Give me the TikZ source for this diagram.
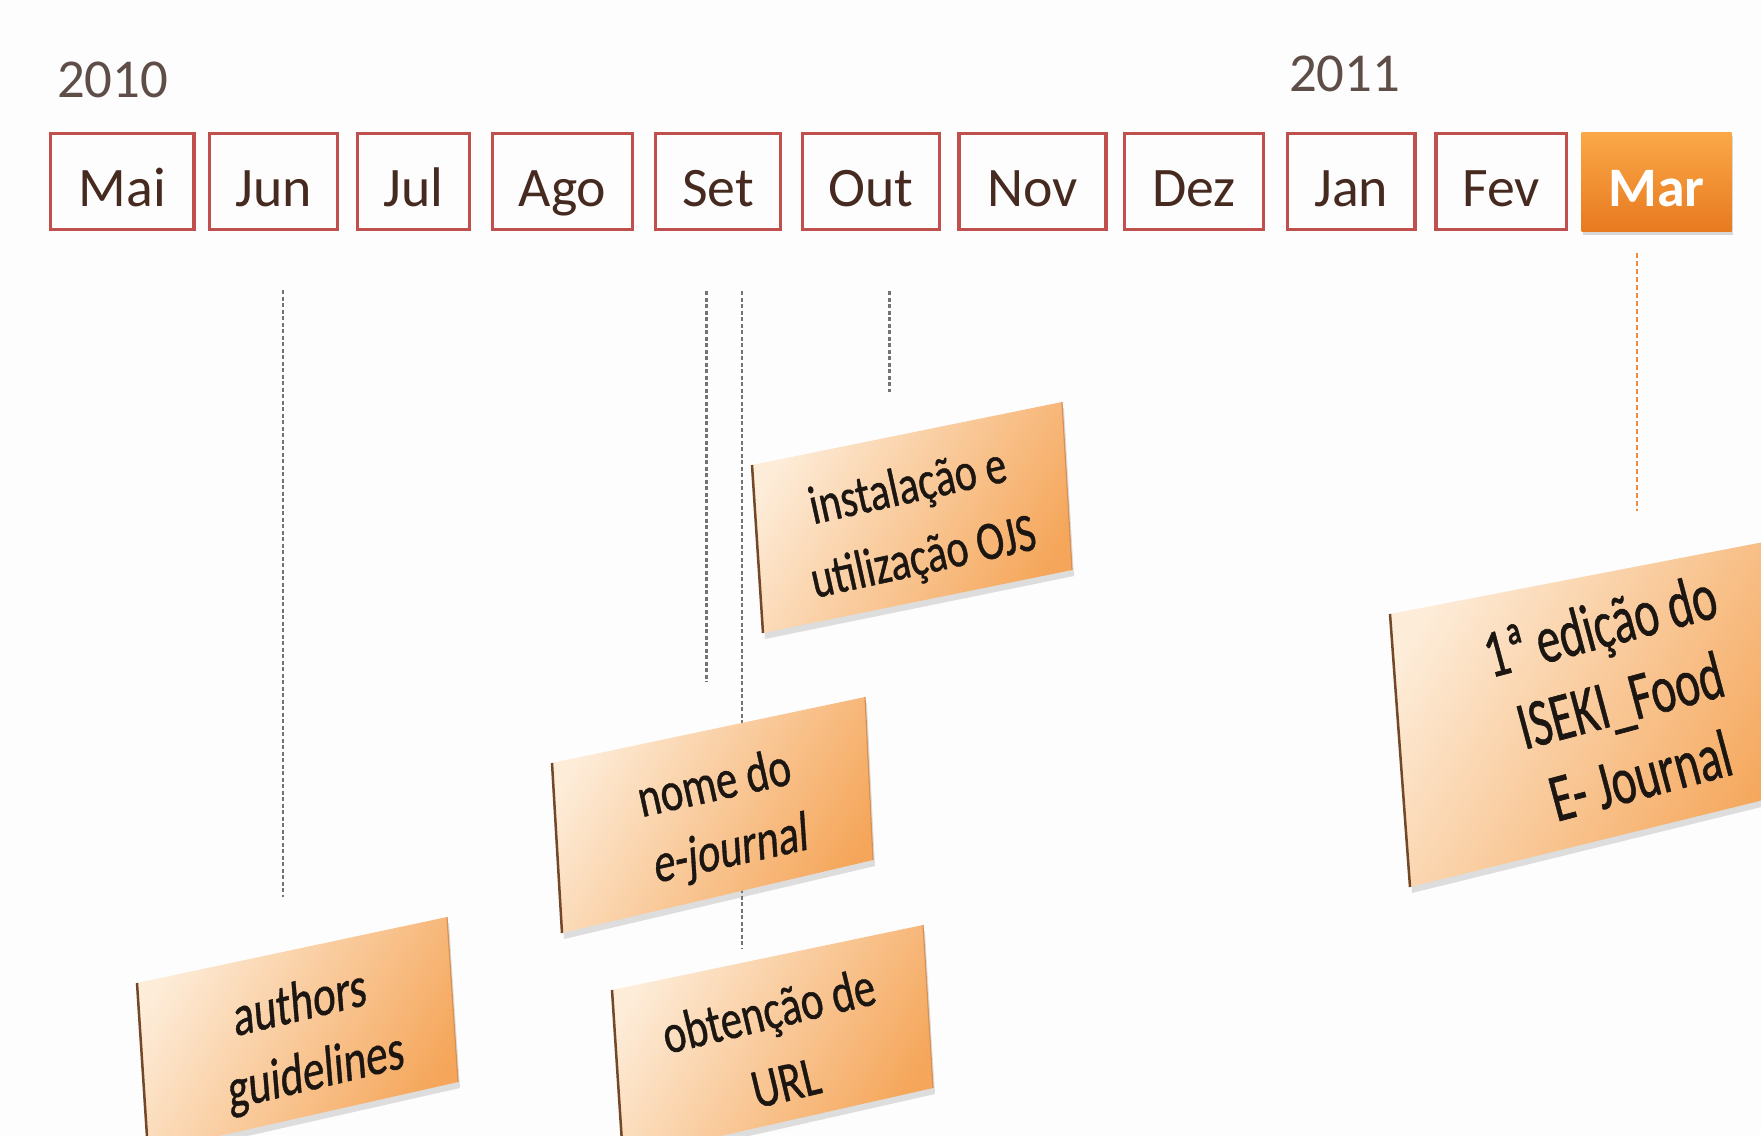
\documentclass[tikz,border=0pt]{standalone}
\usepackage{fontspec}
\setmainfont{Carlito}
\newfontfamily\calloutfont{Carlito}[FakeBold=0.9]
\newfontfamily\calloutit{Carlito}[FakeBold=0.9, FakeSlant=0.2]
\usetikzlibrary{shadows}
\definecolor{monthred}{RGB}{192,80,77}
\definecolor{monthink}{RGB}{70,42,32}
\definecolor{yearink}{RGB}{95,78,72}
\definecolor{calloutink}{RGB}{28,22,18}
\definecolor{peachlight}{RGB}{253,236,216}
\definecolor{peachdark}{RGB}{245,166,90}
\definecolor{marlight}{RGB}{250,168,72}
\definecolor{mardark}{RGB}{232,122,32}
\definecolor{dashgray}{RGB}{115,115,115}
\definecolor{dashorange}{RGB}{238,140,60}
\definecolor{edgebrown}{RGB}{115,72,40}
\definecolor{edgelight}{RGB}{215,145,85}
\definecolor{bgwhite}{RGB}{253,253,253}
\begin{document}
\begin{tikzpicture}[x=1bp,y=-1bp,
  monthbox/.style={draw=monthred, line width=3.4bp, minimum height=96bp, inner sep=0pt,
    text=monthink, font=\fontsize{56}{60}\selectfont, text height=50bp, text depth=0bp},
  marbox/.style={minimum height=99bp, minimum width=150bp, inner sep=0pt, text=white,
    font=\fontsize{56}{60}\selectfont\bfseries, text height=50bp, text depth=0bp,
    top color=marlight, bottom color=mardark,
    drop shadow={shadow xshift=1bp, shadow yshift=-4bp, opacity=0.3}},
  yearlabel/.style={font=\fontsize{55}{60}\selectfont, text=yearink, inner sep=0pt, anchor=base west},
  calloutfill/.style={top color=peachlight, bottom color=peachdark, shading angle=60,
    drop shadow={shadow xshift=2bp, shadow yshift=-6bp, opacity=0.25}},
  edgeleft/.style={draw=edgebrown, line width=2.5bp},
  edgeright/.style={draw=edgelight, line width=1.2bp},
  callouttext/.style={align=center, text=calloutink, inner sep=0pt, transform shape},
  dashline/.style={draw=dashgray, line width=2.4bp, dash pattern=on 4bp off 2.5bp},
  dashmar/.style={draw=dashorange, line width=2.4bp, dash pattern=on 5bp off 3bp}
]
\useasboundingbox (0,0) rectangle (1761,1135);
\clip (0,0) rectangle (1761,1135);
\fill[bgwhite] (0,0) rectangle (1761,1135);

% years
\node[yearlabel] (y2010) at (57,97) {2010};
\node[yearlabel] (y2011) at (1289,91) {2011};

% months
\node[monthbox, minimum width=143.5bp] (mai) at (122.25,181.5) {Mai};
\node[monthbox, minimum width=128bp]   (jun) at (273.5,181.5) {Jun};
\node[monthbox, minimum width=112bp]   (jul) at (413.5,181.5) {Jul};
\node[monthbox, minimum width=140bp]   (ago) at (562.5,181.5) {Ago};
\node[monthbox, minimum width=125bp]   (set) at (718,181.5) {Set};
\node[monthbox, minimum width=137bp]   (out) at (871,181.5) {Out};
\node[monthbox, minimum width=147bp]   (nov) at (1032.5,181.5) {Nov};
\node[monthbox, minimum width=139bp]   (dez) at (1194,181.5) {Dez};
\node[monthbox, minimum width=127.5bp] (jan) at (1351.25,181.5) {Jan};
\node[monthbox, minimum width=130.5bp] (fev) at (1501.25,181.5) {Fev};
\node[marbox] (mar) at (1656.5,181.5) {Mar};

% dashed connectors
\coordinate (dJunA) at (283,290);   \coordinate (dJunB) at (283,897);
\coordinate (dSetA) at (706.5,291); \coordinate (dSetB) at (706.5,682);
\coordinate (dSetC) at (742,291);   \coordinate (dSetD) at (742,948);
\coordinate (dOutA) at (889.5,291); \coordinate (dOutB) at (889.5,392);
\coordinate (dMarA) at (1637,253);  \coordinate (dMarB) at (1637,511);
\draw[dashline] (dJunA) -- (dJunB);
\draw[dashline] (dSetA) -- (dSetB);
\draw[dashline] (dSetC) -- (dSetD);
\draw[dashline] (dOutA) -- (dOutB);
\draw[dashmar] (dMarA) -- (dMarB);

% callout: instalacao
\coordinate (iTL) at (752,465); \coordinate (iTR) at (1062,402);
\coordinate (iBR) at (1072,570); \coordinate (iBL) at (763,633);
\path[calloutfill] (iTL) -- (iTR) -- (iBR) -- (iBL) -- cycle;
\draw[edgeleft] (iTL) -- (iBL);
\draw[edgeright] (iTR) -- (iBR);
\begin{scope}[shift={(916,524)}, rotate=12.5, yscale=1.3]
  \node[callouttext, font=\calloutfont\fontsize{42}{56}\selectfont] (tInst) at (0,0) {instalação e\\utilização OJS};
\end{scope}

% callout: nome do e-journal
\coordinate (nTL) at (552,763); \coordinate (nTR) at (865,697);
\coordinate (nBR) at (873,860); \coordinate (nBL) at (562,933);
\path[calloutfill] (nTL) -- (nTR) -- (nBR) -- (nBL) -- cycle;
\draw[edgeleft] (nTL) -- (nBL);
\draw[edgeright] (nTR) -- (nBR);
\begin{scope}[shift={(722,819)}, rotate=12.5, yscale=1.3]
  \node[callouttext, font=\calloutfont\fontsize{43}{52}\selectfont] (tNome) at (0,0) {nome do\\{\calloutit e-journal}};
\end{scope}

% callout: obtencao de URL
\coordinate (oTL) at (612,990); \coordinate (oTR) at (923,925);
\coordinate (oBR) at (933,1088); \coordinate (oBL) at (623,1158);
\path[calloutfill] (oTL) -- (oTR) -- (oBR) -- (oBL) -- cycle;
\draw[edgeleft] (oTL) -- (oBL);
\draw[edgeright] (oTR) -- (oBR);
\begin{scope}[shift={(777,1046)}, rotate=13.5, yscale=1.3]
  \node[callouttext, font=\calloutfont\fontsize{43}{57}\selectfont] (tObt) at (0,0) {obtenção de\\URL};
\end{scope}

% callout: authors guidelines
\coordinate (aTL) at (137,983); \coordinate (aTR) at (447,917);
\coordinate (aBR) at (458,1082); \coordinate (aBL) at (148,1152);
\path[calloutfill] (aTL) -- (aTR) -- (aBR) -- (aBL) -- cycle;
\draw[edgeleft] (aTL) -- (aBL);
\draw[edgeright] (aTR) -- (aBR);
\begin{scope}[shift={(306,1040)}, rotate=13.5, yscale=1.3]
  \node[callouttext, font=\calloutit\fontsize{44}{54}\selectfont] (tAuth) at (0,0) {authors\\guidelines};
\end{scope}

% callout: 1a edicao
\coordinate (eTL) at (1390,614); \coordinate (eTR) at (1800,535);
\coordinate (eBR) at (1800,791); \coordinate (eBL) at (1410,887);
\path[calloutfill] (eTL) -- (eTR) -- (eBR) -- (eBL) -- cycle;
\draw[edgeleft] (eTL) -- (eBL);
\begin{scope}[shift={(1620,700)}, rotate=15, yscale=1.45]
  \node[callouttext, font=\calloutfont\fontsize{47}{54}\selectfont] (tEd) at (0,0) {1ª edição do\\ISEKI\_Food\\E- Journal};
\end{scope}
\end{tikzpicture}
\end{document}
